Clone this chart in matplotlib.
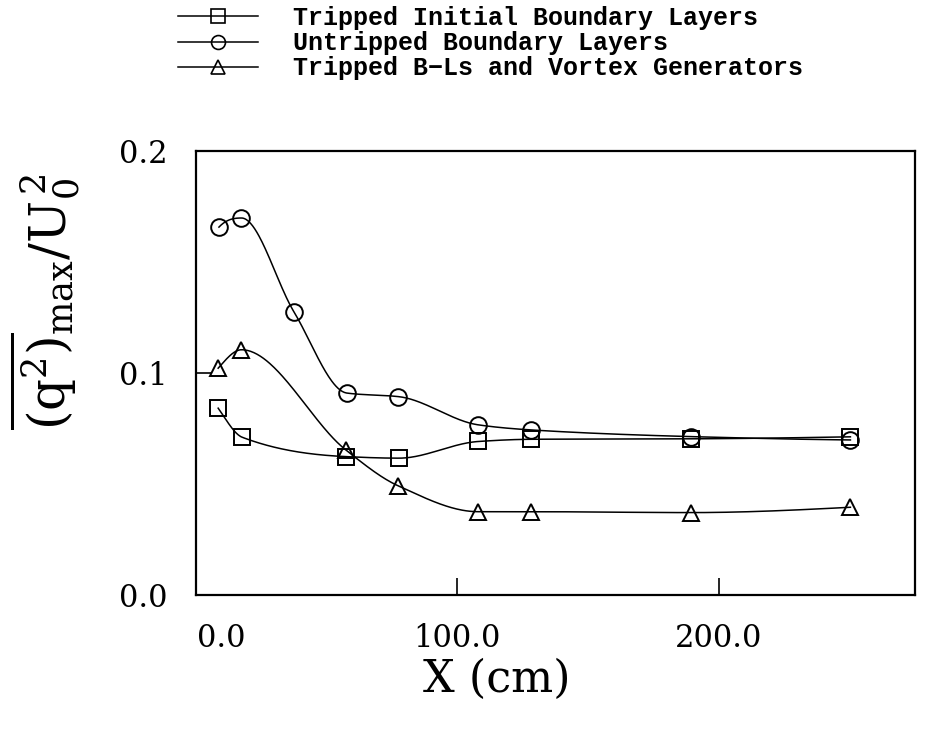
import numpy as np
import matplotlib
matplotlib.use("Agg")
import matplotlib.pyplot as plt
from matplotlib.lines import Line2D
from matplotlib.transforms import ScaledTranslation

# ---- data ----
x_sq = [8.6, 17.8, 57.4, 77.7, 108.0, 128.3, 189.3, 250.3]
y_sq = [0.0841, 0.0710, 0.0623, 0.0616, 0.0691, 0.0701, 0.0703, 0.0712]

x_ci = [8.9, 17.5, 37.5, 57.8, 77.5, 108.0, 128.3, 189.3, 250.3]
y_ci = [0.1656, 0.1697, 0.1276, 0.0909, 0.0893, 0.0766, 0.0743, 0.0713, 0.0698]

x_tr = [8.6, 17.5, 57.4, 77.5, 108.0, 128.3, 189.3, 250.3]
y_tr = [0.1021, 0.1104, 0.0653, 0.0491, 0.0375, 0.0375, 0.0371, 0.0395]

labels = ["Tripped Initial Boundary Layers",
          "Untripped Boundary Layers",
          "Tripped B\u2212Ls and Vortex Generators"]
xticks = [0, 100, 200]
xticklabels = ["0.0", "100.0", "200.0"]
yticks = [0.0, 0.1, 0.2]
yticklabels = ["0.0", "0.1", "0.2"]


def pchip(x, y, xs):
    x = np.asarray(x, float); y = np.asarray(y, float)
    n = len(x)
    h = np.diff(x)
    delta = np.diff(y) / h
    d = np.zeros(n)
    for k in range(1, n - 1):
        if delta[k - 1] * delta[k] > 0:
            w1 = 2 * h[k] + h[k - 1]
            w2 = h[k] + 2 * h[k - 1]
            d[k] = (w1 + w2) / (w1 / delta[k - 1] + w2 / delta[k])

    def end(h0, h1, d0, d1):
        v = ((2 * h0 + h1) * d0 - h0 * d1) / (h0 + h1)
        if np.sign(v) != np.sign(d0):
            v = 0.0
        elif np.sign(d0) != np.sign(d1) and abs(v) > abs(3 * d0):
            v = 3 * d0
        return v
    d[0] = end(h[0], h[1], delta[0], delta[1])
    d[-1] = end(h[-1], h[-2], delta[-1], delta[-2])
    idx = np.clip(np.searchsorted(x, xs) - 1, 0, n - 2)
    hh = h[idx]
    t = (xs - x[idx]) / hh
    h00 = 2 * t ** 3 - 3 * t ** 2 + 1
    h10 = t ** 3 - 2 * t ** 2 + t
    h01 = -2 * t ** 3 + 3 * t ** 2
    h11 = t ** 3 - t ** 2
    return h00 * y[idx] + h10 * hh * d[idx] + h01 * y[idx + 1] + h11 * hh * d[idx + 1]


plt.rcParams['mathtext.fontset'] = 'dejavuserif'
fig = plt.figure(figsize=(9.3, 7.29), dpi=100)
ax = fig.add_axes([0.2104, 0.1838, 0.9839 - 0.2104, 0.7933 - 0.1838])

lw = 1.1
ms = 12
for xs_, ys_, mk in [(x_sq, y_sq, 's'), (x_ci, y_ci, 'o'), (x_tr, y_tr, '^')]:
    xx = np.linspace(xs_[0], xs_[-1], 600)
    ax.plot(xx, pchip(xs_, ys_, xx), color='black', lw=lw)
    ax.plot(xs_, ys_, linestyle='none', marker=mk, ms=ms, mfc='none',
            mec='black', mew=1.4)

ax.set_xlim(0, 275)
ax.set_ylim(0, 0.2)
ax.set_xticks(xticks)
ax.set_xticklabels(xticklabels)
ax.set_yticks(yticks)
ax.set_yticklabels(yticklabels)
for lab in ax.get_xticklabels() + ax.get_yticklabels():
    lab.set_fontfamily('DejaVu Serif')
    lab.set_fontsize(22)
ax.tick_params(axis='x', direction='in', length=12, width=1.2, pad=20)
ax.tick_params(axis='y', direction='in', length=11, width=1.2, pad=20)
for s in ax.spines.values():
    s.set_linewidth(1.6)

# shift the "0.0" x tick label right, as in the reference
first = ax.get_xticklabels()[0]
first.set_transform(first.get_transform() + ScaledTranslation(0.26, 0, fig.dpi_scale_trans))

fig.text(497 / 930, 1 - 679 / 729, "X (cm)", ha='center', va='center',
         fontsize=32, family='DejaVu Serif')
fig.text(45 / 930, 1 - 302 / 729,
         r'$\overline{(\mathrm{q}^2)}_{\mathrm{max}}/\mathrm{U}_0^{\,2}$',
         rotation=90, ha='center', va='center', fontsize=36)

handles = [Line2D([], [], color='black', lw=lw, marker=m, ms=10, mfc='none',
                  mec='black', mew=1.2) for m in ['s', 'o', '^']]
fig.legend(handles, labels, loc='upper left', bbox_to_anchor=(178 / 930, 1 - 6 / 729),
           frameon=False, numpoints=1, borderpad=0, borderaxespad=0,
           handlelength=3.2, handletextpad=1.4, labelspacing=0.05,
           prop={'family': 'Liberation Mono', 'weight': 'bold', 'size': 18})

fig.savefig('out.png', dpi=100)
